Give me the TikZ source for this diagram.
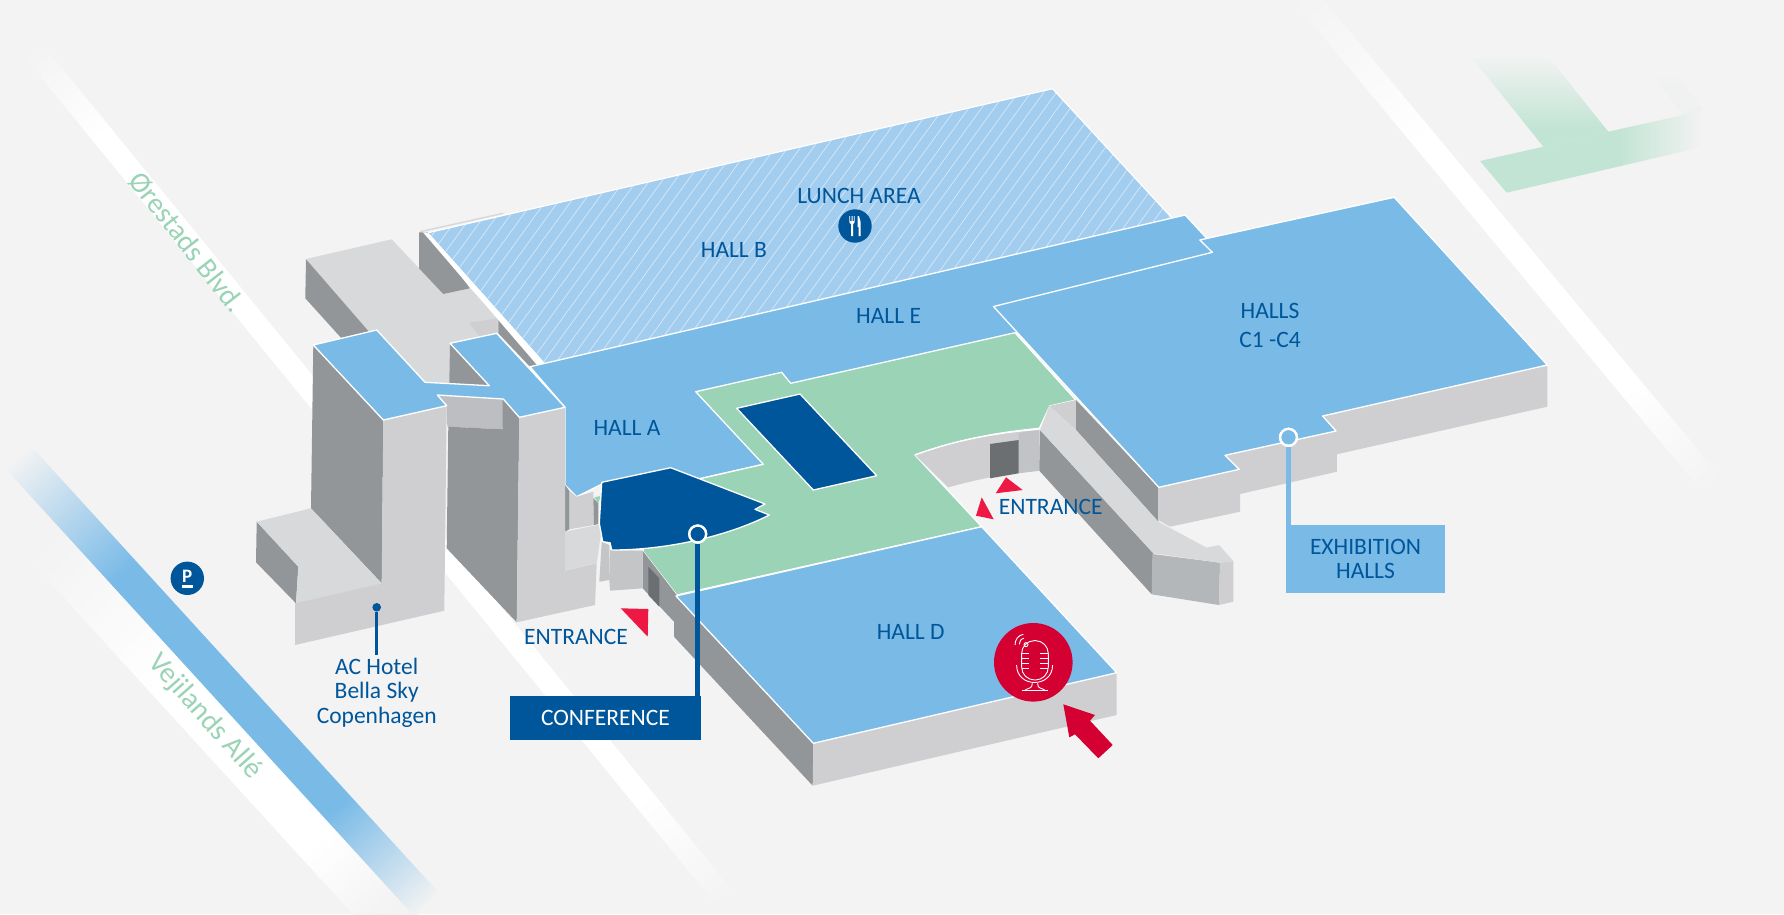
\documentclass[tikz,border=0pt]{standalone}
\usepackage{fontspec}
\usepackage{xcolor}
\setmainfont{Carlito}
\definecolor{mapbg}{HTML}{F3F3F3}
\definecolor{hallblue}{HTML}{79BAE7}
\definecolor{hatchblue}{HTML}{A3CDEF}
\definecolor{lawn}{HTML}{9AD3B6}
\definecolor{lawnpale}{HTML}{C2E4D4}
\definecolor{navy}{HTML}{00569A}
\definecolor{walldark}{HTML}{939698}
\definecolor{walllight}{HTML}{CFCFD1}
\definecolor{wallmid}{HTML}{BCBEC1}
\definecolor{rampface}{HTML}{B4B7B9}
\definecolor{roofgray}{HTML}{D8D9DB}
\definecolor{doorgray}{HTML}{6C6F71}
\definecolor{micred}{HTML}{D40032}
\definecolor{flagred}{HTML}{EE1845}
\pgfdeclarehorizontalshading{roadwest}{100bp}{color(0bp)=(mapbg); color(25bp)=(mapbg); color(30bp)=(white); color(69bp)=(white); color(75bp)=(mapbg); color(100bp)=(mapbg)}
\pgfdeclarehorizontalshading{roadeast}{100bp}{color(0bp)=(mapbg); color(25bp)=(mapbg); color(40bp)=(white); color(65bp)=(white); color(75bp)=(mapbg); color(100bp)=(mapbg)}
\pgfdeclarehorizontalshading{roadblue}{100bp}{color(0bp)=(mapbg); color(25bp)=(mapbg); color(38bp)=(hallblue); color(64bp)=(hallblue); color(75bp)=(mapbg); color(100bp)=(mapbg)}
\pgfdeclarehorizontalshading{roadverge}{100bp}{color(0bp)=(mapbg); color(32bp)=(mapbg); color(47bp)=(white); color(65bp)=(white); color(73bp)=(mapbg); color(100bp)=(mapbg)}
\pgfdeclarehorizontalshading{barfade}{100bp}{color(0bp)=(lawnpale); color(25bp)=(lawnpale); color(56bp)=(lawnpale); color(75bp)=(mapbg); color(100bp)=(mapbg)}
\pgfdeclareverticalshading{armfade}{100bp}{color(0bp)=(lawnpale); color(25bp)=(lawnpale); color(35bp)=(lawnpale); color(75bp)=(mapbg); color(100bp)=(mapbg)}
\begin{document}
\begin{tikzpicture}%
  [x=1pt,y=-1pt,line join=round]
  \tikzstyle{hall}=[fill=hallblue,draw=white,line width=1.3]
  \tikzstyle{lawn area}=[fill=lawn,draw=white,line width=1.3]
  \tikzstyle{navy area}=[fill=navy,draw=white,line width=1.3]
  \tikzstyle{dark wall}=[fill=walldark]
  \tikzstyle{light wall}=[fill=walllight]
  \tikzstyle{roof}=[fill=roofgray]
  \tikzstyle{flag}=[fill=flagred]
  \tikzstyle{place}=[text=navy,align=center,font=\fontsize{23.5}{24.2}\selectfont]
  \tikzstyle{street}=[text=lawn,font=\fontsize{29}{30}\selectfont]
  \tikzstyle{badge}=[circle,fill=navy,minimum size=33.4,inner sep=0]
  \tikzstyle{ring}=[circle,draw=white,line width=2.2,minimum size=17,inner sep=0]
  \tikzstyle{hatch line}=[white,line width=.7,opacity=.55]
  \tikzstyle{mic line}=[white,line width=.9]
  \fill[mapbg] (0,0) rectangle (1784,914);
  \useasboundingbox (0,0) rectangle (1784,914);

  \shade[shading=roadwest,transform canvas={shift={(41.7,43.3)},rotate=-50.8}] (0,0) rectangle (1096,22);
  \shade[shading=roadeast,transform canvas={shift={(1311,-15)},rotate=-50.2}] (0,0) rectangle (641,24);
  \shade[shading=roadverge,transform canvas={shift={(30,445)},rotate=-47.6}] (0,0) rectangle (608,78);
  \shade[shading=roadblue,transform canvas={shift={(30,445)},rotate=-47.6}] (0,0) rectangle (608,34);

  \shade[shading=armfade] (1470,55) -- (1546.7,55) -- (1608.3,131.7) -- (1543.3,146.7) -- cycle;
  \shade[shading=barfade] (1480,161) -- (1543.3,146.7) -- (1608.3,131.7) -- (1683.3,115) -- (1703.3,110) -- (1703.3,146.7) -- (1506.7,192.7) -- cycle;
  \shade[top color=mapbg,bottom color=lawnpale!12!mapbg] (1641.7,60) -- (1683.3,115) -- (1703.3,110) -- (1665,60) -- cycle;

  \draw[roofgray,line width=1.5] (420,231.7) -- (503.3,213.3);
  \fill[dark wall] (306,259) -- (305.3,298.3) -- (372,372) -- (372,330) -- cycle;
  \fill[roof] (306,259) -- (391.7,239.3) -- (443.3,294) -- (470,288.3) -- (498.3,318.3) -- (498.3,345) -- (450,385) -- (425,382.3) -- (372,335) -- cycle;
  \fill[light wall] (469,322.7) -- (497.7,318.3) -- (497.7,333.3) -- (480,336.7) -- cycle;
  \fill[dark wall] (419,232.3) -- (419,268.3) -- (443.3,294) -- (470,288.3) -- (428,232.3) -- cycle;
  \fill[dark wall] (498.3,317.3) -- (498.3,333.3) -- (530,366.7) -- (545,363.3) -- cycle;

  \fill[hatchblue] (428.3,232.7) -- (1052.5,88.7) -- (1172,218) -- (545,363.3) -- cycle;
  \begin{scope}
    \clip (428.3,232.7) -- (1052.5,88.7) -- (1172,218) -- (545,363.3) -- cycle;
    \foreach \i in {0,...,88}
      \draw[hatch line] (300+\i*12.7,400) -- ++(290,-400);
  \end{scope}
  \draw[white,line width=1.2] (428.3,232.7) -- (1052.5,88.7) -- (1172,218);
  \fill[white] (423,232.3) -- (428.3,232.7) -- (545,363.3) -- (537,365) -- cycle;

  \path[hall] (530,366.7) -- (545,363.3) -- (1185.2,215) -- (1206.7,238.3) -- (1212,252) -- (1000,340) -- (850,400) -- (763.3,464.3) -- (701.7,478.3) -- (603.3,483.3) -- (576.7,496.7) -- (565,485) -- (565,407.3) -- cycle;
  \path[lawn area] (695.7,391.7) -- (781.7,372.3) -- (790.7,383.3) -- (1015,332.7) -- (1075.8,400) -- (1049.8,406) -- (1039.4,428.3) .. controls (1000,432) and (955,440) .. (915,455) -- (981.7,526.7) -- (676.7,595) -- (643.3,551.7) -- (640,520) -- (701.7,478.3) -- (763.3,464.3) -- cycle;
  \path[navy area] (736.7,408.3) -- (800,394) -- (876.7,475.7) -- (813.3,490) -- cycle;

  \fill[light wall] (915,455) .. controls (955,440) and (1000,432) .. (1039.3,429.3) -- (1039.3,470.7) .. controls (1010,472) and (975,480) .. (948.3,487.3) -- cycle;
  \fill[wallmid!70!walllight] (1018.7,433) -- (1039.3,429.3) -- (1039.3,470.7) -- (1018.7,473.3) -- cycle;
  \fill[doorgray] (990,444) -- (1018.7,440) -- (1018.7,473.3) -- (990,478.3) -- cycle;
  \draw[white,line width=1.3] (915,455) .. controls (955,440) and (1000,432) .. (1039.3,429.3);

  \fill[light wall] (1049.3,406) -- (1076,400) -- (1076,430) -- cycle;
  \fill[dark wall] (1076,400) -- (1158.3,487.3) -- (1158.3,521.7) -- (1076,430) -- cycle;
  \fill[light wall] (1547.3,365) -- (1547.3,406.7) -- (1336.8,454.3) -- (1336.8,471.7) -- (1240,494) -- (1240,511.7) -- (1170,526.7) -- (1158.3,520) -- (1158.3,487.3) -- (1300,400) -- cycle;
  \fill[dark wall] (1040,430) -- (1039.3,470.7) -- (1151.7,594.3) -- (1153.3,553.3) -- cycle;
  \fill[rampface] (1152.3,554) -- (1220,562.7) -- (1219,605) -- (1151.7,594.3) -- cycle;
  \fill[light wall] (1220,562.7) -- (1233.3,561) -- (1233.3,601.7) -- (1219,605) -- cycle;
  \fill[roof] (1049.3,406) -- (1040,430) -- (1153.3,553.3) -- (1220,562.7) -- (1233.3,561) -- (1219,545) -- (1206.7,547.7) -- (1158.3,521.7) -- (1076,430) -- cycle;

  \path[hall] (993.5,306.5) -- (1212.4,252.3) -- (1199.8,240) -- (1394.2,197.3) -- (1547.3,365) -- (1322.6,416) -- (1336,431) -- (1225,455.3) -- (1239.2,469.3) -- (1158.8,487.3) -- cycle;

  \fill[dark wall] (642.7,550.7) -- (676.7,595) -- (813.3,743.3) -- (812.7,785.7) -- (674,636.7) -- (674,621.7) -- (642.7,588.3) -- cycle;
  \fill[doorgray] (648.3,566.7) -- (659.3,578.3) -- (659.3,606.7) -- (648.3,595) -- cycle;
  \fill[light wall] (813.3,743.3) -- (1116.7,672.7) -- (1116.7,715) -- (812.7,785.7) -- cycle;
  \path[hall] (676,596) -- (981.7,526.7) -- (1116.7,672.7) -- (813.3,743.3) -- cycle;

  \fill[wallmid!60!walllight] (610,550) -- (642.7,550.7) -- (642.7,588.3) -- (610,590.7) -- cycle;
  \fill[wallmid!60!walllight] (601.7,541.7) -- (609.3,545) -- (610,590) -- (609.3,580) -- (599.3,581.7) -- cycle;
  \fill[light wall] (569.3,490.7) -- (576.7,496.7) -- (593.3,491.7) -- (594,525) -- (569.3,529.3) -- cycle;
  \fill[dark wall] (565,485) -- (569.3,490.7) -- (569.3,529.3) -- (565,531.7) -- cycle;
  \fill[dark wall] (593.3,498) -- (598.3,503.3) -- (598.3,524) -- (594,525) -- cycle;
  \fill[lawn] (594.3,497.3) -- (600.7,496) -- (598.3,503.3) -- cycle;

  \fill[dark wall] (256.7,521.7) -- (298.3,566.7) -- (296,603.3) -- (256,562.3) -- cycle;
  \fill[dark wall] (313.3,345) -- (311,508.3) -- (381.7,583.3) -- (383.3,420) -- cycle;
  \fill[roof] (256.7,521.7) -- (311,508.3) -- (381.7,583.3) -- (296,603.3) -- (298.3,566.7) -- cycle;
  \fill[light wall] (383.3,420) -- (446.7,405.7) -- (444.3,610.7) -- (295,645) -- (295,603.3) -- (381.7,583.3) -- cycle;
  \fill[dark wall] (450,343.3) -- (449.3,383.3) -- (489.3,385.7) -- cycle;
  \fill[wallmid] (437.3,395) -- (503.3,399) -- (502.7,429.3) -- (447.3,426.7) -- (446.7,405.7) -- cycle;
  \fill[dark wall] (502.7,399) -- (519.3,417.3) -- (516.7,622.3) -- (446.7,548.3) -- (448.3,426.7) -- (502.7,429.3) -- cycle;
  \fill[light wall] (519.3,417.3) -- (565,407.3) -- (565,570.7) -- (596.7,563.3) -- (595,605) -- (516.7,622.3) -- cycle;
  \fill[roof] (565,531.7) -- (602.3,524) -- (596.7,563.3) -- (565,570.7) -- cycle;
  \path[hall] (313.3,345) -- (376.7,330) -- (425,382.3) -- (489.3,385.7) -- (450,343.3) -- (496.7,333.3) -- (565,407.3) -- (519.3,417.3) -- (503.3,399) -- (437.3,395) -- (446.7,405.7) -- (383.3,420) -- cycle;

  \path[navy area] (601.7,482.3) -- (670.7,467.7) -- (765,504) -- (755,509.3) -- (769.3,515) .. controls (730,535) and (670,550) .. (611.7,550) -- (610,542.7) -- (602.7,541.7) -- (599.3,523.3) -- cycle;

  \path[flag] (1006,477.3) -- (1022.7,490) -- (995.7,493.3) -- cycle;
  \path[flag] (981.7,497.3) -- (993.7,519.3) -- (976,515.7) -- cycle;
  \path[flag] (620.7,608.3) -- (648.3,609) -- (647.7,636.7) -- cycle;

  \node(hallb)[place] at (733.9,250.3){HALL B};
  \node(lunch)[place] at (859,195.7){LUNCH AREA};
  \node(halle)[place] at (888.6,316.3){HALL E};
  \node(hallc)[place,font=\fontsize{23.5}{29}\selectfont] at (1270,325.6){HALLS\\C1 -C4};
  \node(halla)[place] at (627,428){HALL A};
  \node(halld)[place] at (910.7,631.7){HALL D};
  \node(entrright)[place] at (1050.7,507.3){ENTRANCE};
  \node(entrleft)[place] at (576,637.3){ENTRANCE};
  \node(hotel)[place] at (376.7,692.8){AC Hotel\\Bella Sky\\Copenhagen};
  \node(orestad)[street,rotate=-52] at (187,242){Ørestads Blvd.};
  \node(vejland)[street,rotate=-48.5] at (205,716.7){Vejilands Allé};

  \node(lunchdot)[badge] at (855,226){};
  \begin{scope}[shift={(lunchdot)}]
    \fill[white] (-5.7,-10) -- (-5.7,-4) -- (-4,-1.5) -- (-4,10) -- (-2,10) -- (-2,-1.5) -- (-.3,-4) -- (-.3,-10) -- (-1.1,-10) -- (-1.1,-5) -- (-2.5,-5) -- (-2.5,-10) -- (-3.5,-10) -- (-3.5,-5) -- (-4.9,-5) -- (-4.9,-10) -- cycle;
    \fill[white] (2.5,-10) -- (4,-10) -- (5.6,-4) -- (5.6,10) -- (3.5,10) -- (3.5,1) -- (2.5,1) -- cycle;
  \end{scope}

  \node(parkdot)[badge] at (187.3,578.3){};
  \node(parkmark)[text=white,inner sep=0,font=\fontsize{19}{19}\bfseries\selectfont] at (187.3,576.7){P};
  \fill[white] (182.3,585) rectangle (192.7,587.7);

  \node(hoteldot)[circle,fill=navy,minimum size=8.6,inner sep=0] at (376.7,607.3){};
  \draw[navy,line width=2.7] (hoteldot) -- (hotel.north);

  \node(confbox)[fill=navy,text=white,font=\fontsize{23.5}{24.2}\selectfont,minimum width=190.7,minimum height=44.3,inner sep=0] at (605.4,717.9){CONFERENCE};
  \node(confdot)[ring,fill=navy] at (697.7,534){};
  \draw[navy,line width=5] (confdot.south) -- (confdot.south |- confbox.north);
  \node[ring] at (confdot){};

  \node(exhibbox)[fill=hallblue,text=navy,align=center,font=\fontsize{23.5}{24.2}\selectfont,minimum width=159,minimum height=67.7,inner sep=0] at (1365.5,558.9){EXHIBITION\\HALLS};
  \node(exhibdot)[ring,fill=hallblue] at (1288.5,437.3){};
  \draw[hallblue,line width=4.4] (exhibdot.south) -- (exhibdot.south |- exhibbox.north);
  \node[ring] at (exhibdot){};

  \fill[micred] (1063.3,704.3) -- (1095,715) -- (1090,720.7) -- (1112.7,745) -- (1098.3,758.3) -- (1075,734.3) -- (1069.3,737.3) -- cycle;
  \node(micdot)[circle,fill=micred,minimum size=78.6,inner sep=0] at (1033.3,662.3){};
  \begin{scope}[shift={(micdot)}]
    \draw[mic line] (-11.7,-21.7) [rounded corners=13] rectangle (15,17.7);
    \foreach \y in {-9,-4,1,6} {
      \draw[mic line] (-11.7,\y) -- (-4,\y);
      \draw[mic line] (7,\y) -- (15,\y);
    }
    \draw[mic line] (-16.7,2.7) .. controls (-16.7,26) and (19.3,26) .. (19.3,2.7);
    \draw[mic line] (-11.7,28.3) -- (15,28.3);
    \draw[mic line] (-9,28.3) .. controls (-5,25) and (-1,27) .. (-1,21);
    \draw[mic line] (12.3,28.3) .. controls (8,25) and (4.3,27) .. (4.3,21);
    \draw[mic line] (-7.3,-17.7) circle (2);
    \draw[mic line] (-18.3,-17.3) .. controls (-18.3,-23) and (-15,-27) .. (-10,-28);
    \draw[mic line] (-14,-18) .. controls (-14,-21) and (-12.5,-23.5) .. (-9.3,-24);
  \end{scope}
\end{tikzpicture}
\end{document}
